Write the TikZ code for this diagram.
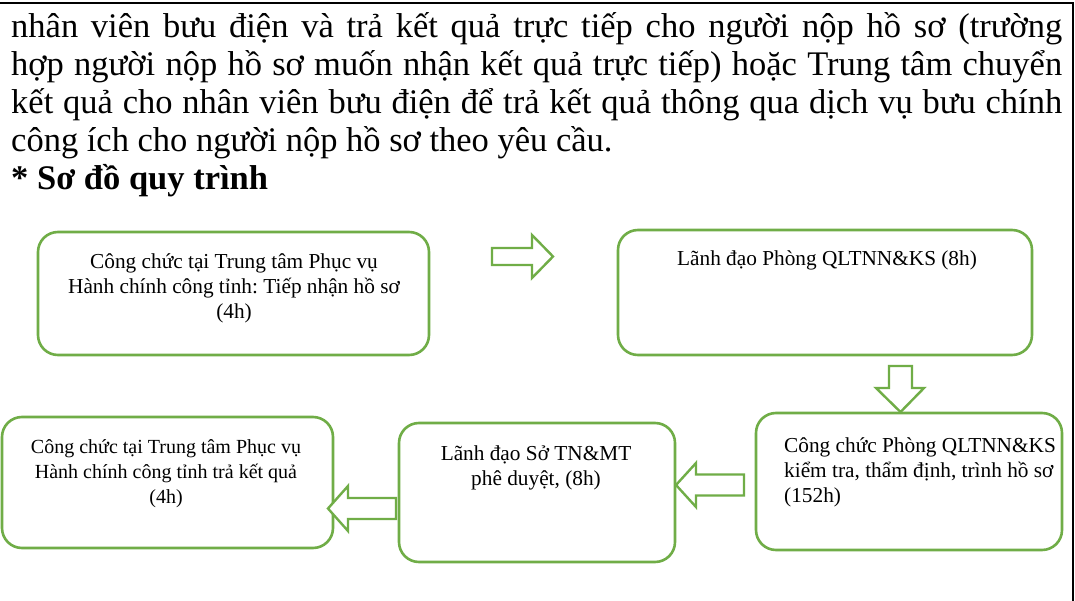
\documentclass[tikz,border=0pt]{standalone}
\usepackage{fontspec}
\setmainfont{Liberation Serif}
\definecolor{gr}{HTML}{70AD47}
\begin{document}
\begin{tikzpicture}[x=1pt,y=-1pt,
  box/.style={draw=gr, line width=2.6pt, rounded corners=20pt, inner sep=0pt, outer sep=0pt, anchor=north west},
  blockarrow/.style={draw=gr, line width=2.4pt, fill=white, line join=miter},
  ptext/.style={inner sep=0pt, anchor=base west, font=\fontsize{34.5}{38}\selectfont},
  btext/.style={inner sep=0pt, align=center, anchor=north, font=\fontsize{21.3}{25}\selectfont},
  stext/.style={btext, font=\fontsize{20}{25}\selectfont}
]
\frenchspacing
\useasboundingbox (0,0) rectangle (1075,601);
\fill[white] (0,0) rectangle (1075,601);
\draw[line width=2pt] (0,3) -- (1073,3) -- (1073,601);

% paragraph
\node[ptext] (l1) at (11,38) {\makebox[1051pt][s]{nhân viên bưu điện và trả kết quả trực tiếp cho người nộp hồ sơ (trường}};
\node[ptext] (l2) at (11,76) {\makebox[1051pt][s]{hợp người nộp hồ sơ muốn nhận kết quả trực tiếp) hoặc Trung tâm chuyển}};
\node[ptext] (l3) at (11,114) {\makebox[1051pt][s]{kết quả cho nhân viên bưu điện để trả kết quả thông qua dịch vụ bưu chính}};
\node[ptext] (l4) at (11,152) {công ích cho người nộp hồ sơ theo yêu cầu.};
\node[ptext] (l5) at (11,190) {\bfseries * Sơ đồ quy trình};

% boxes
\node[box, minimum width=391pt, minimum height=123pt] (b1) at (38,232) {};
\node[box, minimum width=414pt, minimum height=125pt] (b2) at (618,230) {};
\node[box, minimum width=306pt, minimum height=137pt] (b3) at (756,413) {};
\node[box, minimum width=276pt, minimum height=139pt] (b4) at (399,423) {};
\node[box, minimum width=331pt, minimum height=131pt] (b5) at (2,417) {};

% box texts
\node[btext] (t1) at (234,243) {\rule{0pt}{25pt}Công chức tại Trung tâm Phục vụ\\Hành chính công tỉnh: Tiếp nhận hồ sơ\\(4h)};
\node[btext] (t2) at (827,240) {\rule{0pt}{25pt}Lãnh đạo Phòng QLTNN\&KS (8h)};
\node[btext, align=left, anchor=north west] (t3) at (784,427) {\rule{0pt}{25pt}Công chức Phòng QLTNN\&KS\\kiểm tra, thẩm định, trình hồ sơ\\(152h)};
\node[btext] (t4) at (536,435) {\rule{0pt}{25pt}Lãnh đạo Sở TN\&MT\\phê duyệt, (8h)};
\node[stext] (t5) at (166,428) {\rule{0pt}{25pt}Công chức tại Trung tâm Phục vụ\\Hành chính công tỉnh trả kết quả\\(4h)};

% block arrows
\draw[blockarrow] (492,248) -- (532,248) -- (532,235) -- (553,256.5) -- (532,278) -- (532,265) -- (492,265) -- cycle;
\draw[blockarrow] (889,366) -- (912,366) -- (912,388) -- (924,388) -- (900.5,412) -- (876,388) -- (889,388) -- cycle;
\draw[blockarrow] (744,474.5) -- (696,474.5) -- (696,463) -- (676,485) -- (696,507) -- (696,495.5) -- (744,495.5) -- cycle;
\draw[blockarrow] (396,498) -- (348,498) -- (348,486) -- (328,508.5) -- (348,531) -- (348,519) -- (396,519) -- cycle;
\end{tikzpicture}
\end{document}
